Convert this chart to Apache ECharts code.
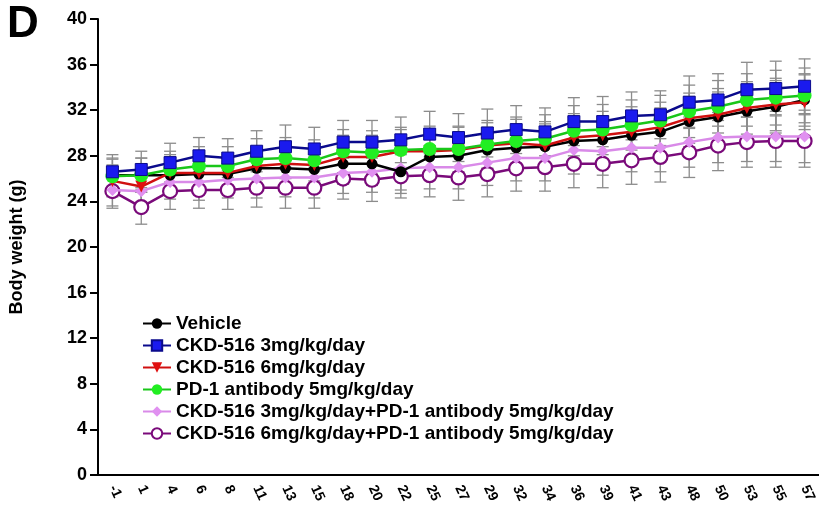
<!DOCTYPE html>
<html><head><meta charset="utf-8">
<script src="https://cdn.jsdelivr.net/npm/echarts@6/dist/echarts.min.js"></script>
<style>html,body{margin:0;padding:0;background:#fff}#c{width:819px;height:514px}</style>
</head><body><div id="c"></div>
<script>
const days = ['-1','1','4','6','8','11','13','15','18','20','22','25','27','29','32','34','36','39','41','43','48','50','53','55','57'];
const yTicks = [0,4,8,12,16,20,24,28,32,36,40];

const vehicle = [26.3,26.3,26.3,26.4,26.4,26.9,26.9,26.8,27.3,27.3,26.6,27.9,28.0,28.5,28.7,28.8,29.3,29.4,29.8,30.1,31.0,31.4,31.9,32.3,32.9];
const ckd3 = [26.6,26.8,27.4,28.0,27.8,28.4,28.8,28.6,29.2,29.2,29.4,29.9,29.6,30.0,30.3,30.1,31.0,31.0,31.5,31.6,32.7,32.9,33.8,33.9,34.1];
const ckd6 = [25.8,25.3,26.5,26.5,26.5,27.1,27.3,27.2,27.9,27.9,28.4,28.4,28.5,28.9,29.1,28.9,29.6,29.8,30.1,30.5,31.3,31.6,32.2,32.5,32.7];
const pd1 = [26.2,26.3,26.8,27.1,27.1,27.7,27.8,27.6,28.4,28.3,28.5,28.6,28.6,29.0,29.3,29.5,30.2,30.3,30.7,31.1,31.9,32.3,32.9,33.1,33.3];
const combo3 = [25.0,24.9,25.7,25.7,25.9,26.0,26.1,26.1,26.5,26.6,26.9,27.0,27.0,27.4,27.8,27.8,28.5,28.4,28.7,28.7,29.2,29.6,29.7,29.7,29.7];
const combo6 = [24.9,23.5,24.9,25.0,25.0,25.2,25.2,25.2,26.0,25.9,26.2,26.3,26.1,26.4,26.9,27.0,27.3,27.3,27.6,27.9,28.3,28.9,29.2,29.3,29.3];

const errVehicle = [1.5,1.5,1.6,1.6,1.7,1.7,1.8,1.8,1.8,1.9,1.9,1.9,2.0,2.0,2.0,2.0,2.1,2.1,2.1,2.1,2.2,2.2,2.3,2.3,2.3];
const errCkd3 = [1.5,1.6,1.7,1.6,1.7,1.8,1.9,1.9,1.9,1.9,2.0,2.0,2.1,2.1,2.1,2.1,2.1,2.2,2.1,2.1,2.3,2.3,2.4,2.4,2.4];
const errCkd6 = [1.4,1.5,1.6,1.6,1.6,1.7,1.8,1.8,1.9,1.9,1.9,2.0,2.0,2.0,2.1,2.1,2.1,2.1,2.2,2.2,2.2,2.3,2.3,2.3,2.4];
const errPd1 = [1.5,1.5,1.6,1.7,1.7,1.8,1.8,1.8,1.9,1.9,2.0,2.0,2.0,2.1,2.1,2.1,2.2,2.2,2.2,2.2,2.3,2.3,2.3,2.4,2.4];
const errCombo3 = [1.4,1.5,1.5,1.6,1.6,1.7,1.7,1.8,1.8,1.8,1.9,1.9,1.9,2.0,2.0,2.0,2.1,2.1,2.1,2.1,2.2,2.2,2.2,2.2,2.3];
const errCombo6 = [1.5,1.5,1.6,1.6,1.7,1.7,1.8,1.8,1.8,1.9,1.9,1.9,2.0,2.0,2.0,2.1,2.1,2.1,2.1,2.2,2.2,2.2,2.2,2.3,2.3];

const names = ['Vehicle','CKD-516 3mg/kg/day','CKD-516 6mg/kg/day','PD-1 antibody 5mg/kg/day','CKD-516 3mg/kg/day+PD-1 antibody 5mg/kg/day','CKD-516 6mg/kg/day+PD-1 antibody 5mg/kg/day'];

const FONT = '"Liberation Sans", Arial, sans-serif';

function errSeries(vals, errs, z) {
  return {
    type: 'custom', silent: true, z: z,
    data: vals.map((v, i) => [i, v, errs[i]]),
    encode: { x: 0, y: 1 },
    renderItem: function (params, api) {
      const i = api.value(0), m = api.value(1), e = api.value(2);
      const top = api.coord([i, m + e]);
      const bot = api.coord([i, m - e]);
      const hw = 6;
      const st = { stroke: '#8c8c8c', lineWidth: 1.3 };
      return { type: 'group', children: [
        { type: 'line', shape: { x1: top[0], y1: top[1], x2: bot[0], y2: bot[1] }, style: st },
        { type: 'line', shape: { x1: top[0]-hw, y1: top[1], x2: top[0]+hw, y2: top[1] }, style: st },
        { type: 'line', shape: { x1: bot[0]-hw, y1: bot[1], x2: bot[0]+hw, y2: bot[1] }, style: st }
      ]};
    }
  };
}

function lineSeries(name, vals, lineColor, marker, z) {
  return Object.assign({
    name: name, type: 'line', data: vals, z: z,
    lineStyle: { color: lineColor, width: 2.5 },
    symbolKeepAspect: true
  }, marker);
}

const chart = echarts.init(document.getElementById('c'), null, { renderer: 'canvas' });
chart.setOption({
  animation: false,
  backgroundColor: '#fff',
  textStyle: { fontFamily: FONT },
  graphic: [{ type: 'text', left: 7, top: 3, style: { text: 'D', font: 'bold 44px ' + FONT, fill: '#000' } }],
  grid: { left: 97, right: 0, top: 19, bottom: 39, containLabel: false },
  legend: {
    data: names, orient: 'vertical', left: 137, top: 309,
    itemWidth: 28, itemHeight: 13, itemGap: 3,
    textStyle: { fontFamily: FONT, fontWeight: 'bold', fontSize: 19, lineHeight: 18, color: '#000' }
  },
  xAxis: {
    type: 'category', data: days, boundaryGap: true,
    axisLine: { lineStyle: { color: '#000', width: 2 } },
    axisTick: { alignWithLabel: true, length: 8, lineStyle: { color: '#000', width: 2 } },
    axisLabel: { rotate: -65, interval: 0, fontFamily: FONT, fontWeight: 'bold', fontSize: 14, color: '#000', margin: 11 },
    splitLine: { show: false }
  },
  yAxis: {
    type: 'value', min: yTicks[0], max: yTicks[yTicks.length-1], interval: 4,
    name: 'Body weight (g)', nameLocation: 'middle', nameGap: 72, nameRotate: 90,
    nameTextStyle: { fontFamily: FONT, fontWeight: 'bold', fontSize: 18, color: '#000' },
    axisLine: { show: true, lineStyle: { color: '#000', width: 2 } },
    axisTick: { show: true, length: 8, lineStyle: { color: '#000', width: 2 } },
    axisLabel: { fontFamily: FONT, fontWeight: 'bold', fontSize: 18, color: '#000', margin: 11 },
    splitLine: { show: false }
  },
  series: [
    errSeries(combo6, errCombo6, 1),
    errSeries(combo3, errCombo3, 1),
    errSeries(vehicle, errVehicle, 1),
    errSeries(ckd6, errCkd6, 1),
    errSeries(pd1, errPd1, 1),
    errSeries(ckd3, errCkd3, 1),
    lineSeries(names[0], vehicle, '#000000', { symbol: 'circle', symbolSize: 11, itemStyle: { color: '#000000' } }, 4),
    lineSeries(names[1], ckd3, '#0a0a8c', { symbol: 'rect', symbolSize: 12, itemStyle: { color: '#1a1aee', borderColor: '#0a0a8c', borderWidth: 1 } }, 7),
    lineSeries(names[2], ckd6, '#d01010', { symbol: 'triangle', symbolRotate: 180, symbolSize: 12, itemStyle: { color: '#e01010' } }, 5),
    lineSeries(names[3], pd1, '#19c619', { symbol: 'circle', symbolSize: 14, itemStyle: { color: '#22ee22' } }, 6),
    lineSeries(names[4], combo3, '#d98ae8', { symbol: 'diamond', symbolSize: 12, itemStyle: { color: '#e090f0' } }, 3),
    lineSeries(names[5], combo6, '#7a0a7a', { symbol: 'circle', symbolSize: 14, itemStyle: { color: '#ffffff', borderColor: '#7a0a7a', borderWidth: 2.2 } }, 2)
  ]
});
</script></body></html>
